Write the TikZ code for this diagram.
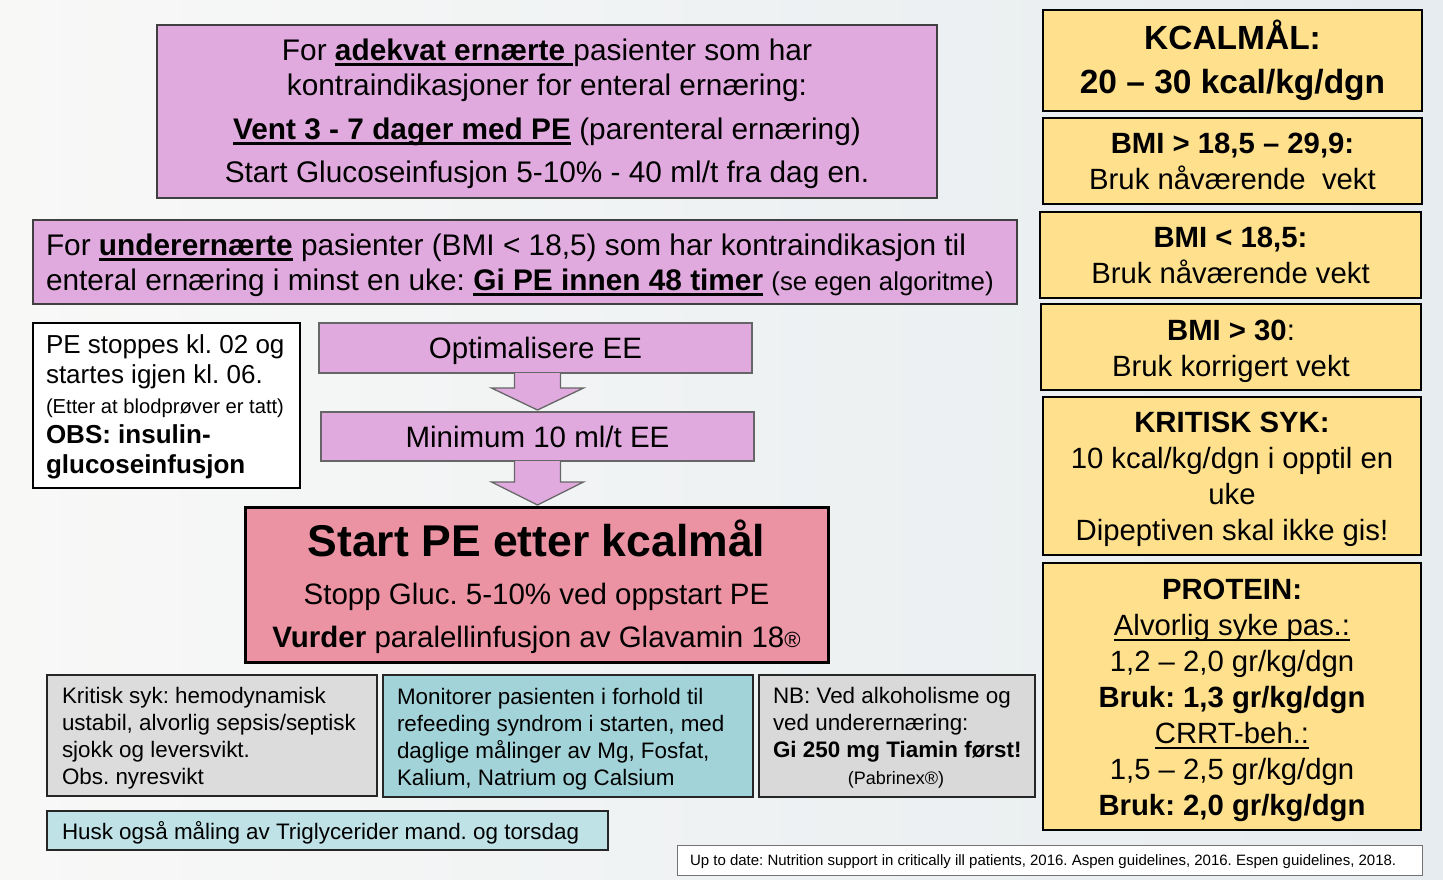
\documentclass[tikz,border=0pt]{standalone}
\usepackage{fontspec}
\setmainfont{Liberation Sans}
\usetikzlibrary{calc}
\frenchspacing
\definecolor{cBgA}{HTML}{F8F8F7}
\definecolor{cBgB}{HTML}{E6ECEF}
\definecolor{cViolet}{HTML}{E1AADF}
\definecolor{cRose}{HTML}{EB93A3}
\definecolor{cYellow}{HTML}{FFE18D}
\definecolor{cTeal}{HTML}{A2D3D8}
\definecolor{cLTeal}{HTML}{BEE2E6}
\definecolor{cGray}{HTML}{DCDCDC}
\newsavebox{\ulsave}
\newcommand{\ulgen}[3]{{\sbox{\ulsave}{#3}\leavevmode\rlap{\rule[-#2]{\wd\ulsave}{#1}}\usebox{\ulsave}}}
\newcommand{\ulthick}[1]{\ulgen{2.6pt}{5.6pt}{#1}}
\newcommand{\ulthin}[1]{\ulgen{1.6pt}{4.6pt}{#1}}
\newcommand{\fsz}[2]{\fontsize{#1}{#2}\selectfont}
\newcommand{\tstrut}[1]{\rule{0pt}{#1}}
\tikzset{
  base/.style={rectangle, inner sep=0pt, outer sep=0pt, anchor=north west},
  purplebox/.style={base, draw=black!75, line width=1.6pt, fill=cViolet},
  stepbox/.style={base, draw=black!60, line width=1.3pt, fill=cViolet, font=\fsz{29.5}{35}},
  pinkbox/.style={base, draw=black, line width=3pt, fill=cRose},
  whitebox/.style={base, draw=black, line width=2pt, fill=white},
  ybox/.style={base, draw=black, line width=2.5pt, fill=cYellow, align=center, font=\fsz{29.3}{36}},
  notebox/.style={base, draw=black!85, line width=2pt},
  refbox/.style={base, draw=black!55, line width=1pt, fill=white},
  txt/.style={anchor=west, align=left, inner sep=0pt, outer sep=0pt},
  notetxt/.style={txt, font=\fsz{22.4}{27}},
  blockarrow/.style={fill=cViolet, draw=black!60, line width=1.3pt, line join=miter},
}
\begin{document}
\begin{tikzpicture}[x=1pt, y=-1pt]
\useasboundingbox (0,0) rectangle (1443,879);
\shade[left color=cBgA, right color=cBgB] (0,0) rectangle (1443,879);

% top purple boxes
\node[purplebox, minimum width=780pt, minimum height=173pt, align=center, font=\fsz{29.8}{35}] (adekvat) at (157,25)
 {\tstrut{26pt}For \ulthick{\textbf{adekvat ernærte }}pasienter som har\\
  kontraindikasjoner for enteral ernæring:\\[9pt]
  \ulthick{\textbf{Vent 3 - 7 dager med PE}} (parenteral ernæring)\\[8pt]
  Start Glucoseinfusjon 5-10\% - 40 ml/t fra dag en.};

\node[purplebox, minimum width=984pt, minimum height=84pt] (under) at (33,220) {};
\node[txt, font=\fsz{29.8}{35}] (underT) at ($(under.west)+(13,0)$)
 {\tstrut{28pt}For \ulthick{\textbf{underernærte}} pasienter (BMI < 18,5) som har kontraindikasjon til\\
  enteral ernæring i minst en uke: \ulthick{\textbf{Gi PE innen 48 timer}} {\fsz{25.8}{35}(se egen algoritme)}};

% left white note
\node[whitebox, minimum width=267pt, minimum height=165pt] (stopp) at (33,323) {};
\node[txt, font=\fsz{26}{30}] (stoppT) at ($(stopp.west)+(13,0)$)
 {\tstrut{22pt}PE stoppes kl. 02 og\\
  startes igjen kl. 06.\\
  {\fsz{20.2}{28}(Etter at blodprøver er tatt)}\\
  \textbf{OBS: insulin-}\\
  \textbf{glucoseinfusjon}};

% flow
\node[stepbox, minimum width=433pt, minimum height=50pt, text depth=0pt] (opt) at (319,323) {Optimalisere EE};
\node[stepbox, minimum width=433pt, minimum height=49pt] (mini) at (321,412) {Minimum 10 ml/t EE};

\draw[blockarrow] ($(opt.south)+(-21,0)$) -- ++(0,15) -- ++(-23,0) -- ($(opt.south)+(2,37)$)
  -- ($(opt.south)+(48,15)$) -- ++(-23,0) -- ($(opt.south)+(25,0)$);
\draw[blockarrow] ($(mini.south)+(-23,0)$) -- ++(0,21) -- ++(-23,0) -- ($(mini.south)+(0,44)$)
  -- ($(mini.south)+(46,21)$) -- ++(-23,0) -- ($(mini.south)+(23,0)$);

\node[pinkbox, minimum width=583pt, minimum height=155pt] (start) at (245,507) {};
\node[anchor=base, inner sep=0pt, font=\bfseries\fsz{44.5}{52}] (startA) at ($(start.north)+(0,49)$) {Start PE etter kcalmål};
\node[anchor=base, inner sep=0pt, font=\fsz{29.5}{43}] (startB) at ($(start.north)+(0,97)$) {Stopp Gluc. 5-10\% ved oppstart PE};
\node[anchor=base, inner sep=0pt, font=\fsz{29.5}{43}] (startC) at ($(start.north)+(0,140)$) {\textbf{Vurder} paralellinfusjon av Glavamin 18{\fsz{22}{22}®}};

% bottom notes
\node[notebox, fill=cGray, minimum width=330pt, minimum height=121pt] (kritisk) at (47,675) {};
\node[notetxt] (kritiskT) at ($(kritisk.west)+(15,0)$)
 {\tstrut{22.5pt}Kritisk syk: hemodynamisk\\
  ustabil, alvorlig sepsis/septisk\\
  sjokk og leversvikt.\\
  Obs. nyresvikt};
\node[notebox, fill=cTeal, minimum width=370pt, minimum height=122pt] (monitor) at (383,675) {};
\node[notetxt] (monitorT) at ($(monitor.west)+(14,0)$)
 {\tstrut{22pt}Monitorer pasienten i forhold til\\
  refeeding syndrom i starten, med\\
  daglige målinger av Mg, Fosfat,\\
  Kalium, Natrium og Calsium};
\node[notebox, fill=cGray!110, minimum width=276pt, minimum height=122pt] (nb) at (759,675) {};
\node[notetxt] (nbT) at ($(nb.west)+(14,0)$)
 {\tstrut{20pt}NB: Ved alkoholisme og\\
  ved underernæring:\\
  \textbf{Gi 250 mg Tiamin først!}\\
  \makebox[246pt][c]{\fsz{18}{27}(Pabrinex®)}};
\node[notebox, fill=cLTeal, minimum width=561pt, minimum height=39pt] (husk) at (47,811) {};
\node[notetxt, text depth=0pt] (huskT) at ($(husk.west)+(15,0)$)
 {Husk også måling av Triglycerider mand. og torsdag};
\node[refbox, minimum width=745pt, minimum height=30pt] (ref) at (677,845) {};
\node[txt, font=\fsz{15}{18}, text depth=0pt] (refT) at ($(ref.west)+(13,0)$)
 {Up to date: Nutrition support in critically ill patients, 2016. Aspen guidelines, 2016. Espen guidelines, 2018.};

% right column
\node[ybox, minimum width=379pt, minimum height=101pt, font=\bfseries\fsz{33.5}{44}] (kcal) at (1043,10)
 {KCALMÅL:\\ 20 – 30 kcal/kg/dgn};
\node[ybox, minimum width=379pt, minimum height=86pt] (bmiA) at (1043,118)
 {\textbf{BMI > 18,5 – 29,9:}\\ Bruk nåværende\ \ vekt};
\node[ybox, minimum width=381pt, minimum height=86pt] (bmiB) at (1040,212)
 {\textbf{BMI < 18,5:}\\ Bruk nåværende vekt};
\node[ybox, minimum width=380pt, minimum height=86pt] (bmiC) at (1041,304)
 {\tstrut{29pt}\textbf{BMI > 30}:\\ Bruk korrigert vekt};
\node[ybox, minimum width=378pt, minimum height=158pt] (kritsyk) at (1043,397)
 {\tstrut{27pt}\textbf{KRITISK SYK:}\\ 10 kcal/kg/dgn i opptil en\\ uke\\ Dipeptiven skal ikke gis!};
\node[ybox, minimum width=378pt, minimum height=267pt] (protein) at (1043,563)
 {\tstrut{29pt}\textbf{PROTEIN:}\\ \ulthin{Alvorlig syke pas.:}\\ 1,2 – 2,0 gr/kg/dgn\\ \textbf{Bruk: 1,3 gr/kg/dgn}\\
  \ulthin{CRRT-beh.:}\\ 1,5 – 2,5 gr/kg/dgn\\ \textbf{Bruk: 2,0 gr/kg/dgn}};
\end{tikzpicture}
\end{document}
